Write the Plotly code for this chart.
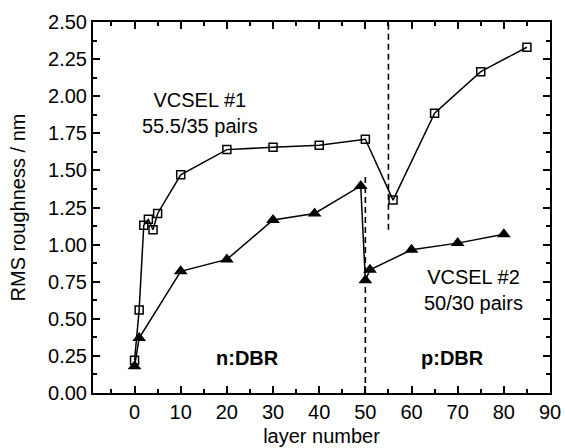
import plotly.graph_objects as go

# VCSEL #1 (open squares)
v1_layer = [0, 1, 2, 3, 4, 5, 10, 20, 30, 40, 50, 56, 65, 75, 85]
v1_rms = [0.22, 0.56, 1.13, 1.17, 1.10, 1.21, 1.47, 1.64, 1.656, 1.67, 1.71, 1.30, 1.885, 2.165, 2.33]

# VCSEL #2 (filled triangles)
v2_layer = [0, 1, 10, 20, 30, 39, 49, 50, 51, 60, 70, 80]
v2_rms = [0.18, 0.37, 0.82, 0.90, 1.166, 1.21, 1.395, 0.76, 0.83, 0.965, 1.01, 1.07]

# n/p DBR boundaries (dashed)
bound1_x = [55, 55]
bound1_y = [1.10, 2.5]
bound2_x = [50, 50]
bound2_y = [0.0, 1.48]

font = "Liberation Sans, Arial, sans-serif"
fs = 20

fig = go.Figure()
for bx, by in ((bound1_x, bound1_y), (bound2_x, bound2_y)):
    fig.add_trace(go.Scatter(x=bx, y=by, mode="lines",
                             line=dict(color="black", width=1.6, dash="6px,4px"), showlegend=False))
fig.add_trace(go.Scatter(x=v1_layer, y=v1_rms, mode="lines+markers",
                         line=dict(color="black", width=1.5),
                         marker=dict(symbol="square-open", size=8, color="black",
                                     line=dict(width=1.5, color="black")),
                         showlegend=False))
fig.add_trace(go.Scatter(x=v2_layer, y=v2_rms, mode="lines+markers",
                         line=dict(color="black", width=1.5),
                         marker=dict(symbol="triangle-up", size=12, color="black"),
                         showlegend=False))

anns = [
    dict(x=14.1, y=1.89, text="VCSEL #1<br>55.5/35 pairs"),
    dict(x=73.5, y=0.694, text="VCSEL #2<br>50/30 pairs"),
    dict(x=24.4, y=0.234, text="<b>n:DBR</b>"),
    dict(x=68.9, y=0.234, text="<b>p:DBR</b>"),
]
for a in anns:
    fig.add_annotation(x=a["x"], y=a["y"], text=a["text"], showarrow=False,
                       xref="x", yref="y", font=dict(family=font, size=fs, color="black"),
                       align="center")

axis_common = dict(showline=True, linecolor="black", linewidth=2, mirror="allticks",
                   ticks="inside", ticklen=7, tickwidth=1.5, tickcolor="black",
                   showgrid=False, zeroline=False, automargin=False,
                   tickfont=dict(family=font, size=fs, color="black"))

fig.update_xaxes(range=[-9, 90], tick0=0, dtick=10,
                 minor=dict(ticks="inside", dtick=5, ticklen=4, tickwidth=1.5, tickcolor="black"),
                 title=dict(text="layer number", font=dict(family=font, size=fs, color="black"), standoff=7),
                 **axis_common)
fig.update_yaxes(range=[0, 2.5], tick0=0, dtick=0.25, tickformat=".2f",
                 minor=dict(ticks="inside", dtick=0.125, ticklen=4, tickwidth=1.5, tickcolor="black"),
                 title=dict(text="RMS roughness / nm", font=dict(family=font, size=fs, color="black"), standoff=17),
                 **axis_common)

fig.update_layout(width=565, height=448, margin=dict(l=93, r=15, t=22, b=55),
                  plot_bgcolor="white", paper_bgcolor="white")

fig.write_html("out.html")
